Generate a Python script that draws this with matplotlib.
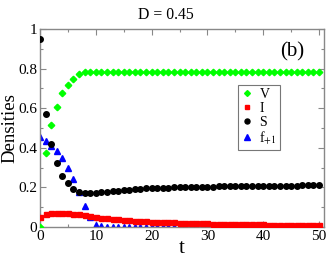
import matplotlib
matplotlib.use("Agg")
import matplotlib.pyplot as plt
from matplotlib.ticker import FixedLocator

t = list(range(51))
V = [0.0, 0.372, 0.514, 0.608, 0.675, 0.717, 0.747, 0.771, 0.781, 0.783,
     0.784, 0.784, 0.784, 0.784, 0.784, 0.784, 0.784, 0.784, 0.784, 0.784,
     0.784, 0.784, 0.784, 0.784, 0.784, 0.784, 0.784, 0.784, 0.784, 0.784,
     0.784, 0.784, 0.784, 0.784, 0.784, 0.784, 0.784, 0.784, 0.784, 0.784,
     0.784, 0.784, 0.784, 0.784, 0.784, 0.784, 0.784, 0.784, 0.784, 0.784, 0.784]
I = [0.052, 0.066, 0.071, 0.073, 0.072, 0.070, 0.067, 0.064, 0.060, 0.055,
     0.050, 0.047, 0.044, 0.041, 0.038, 0.036, 0.034, 0.032, 0.030, 0.029,
     0.027, 0.026, 0.025, 0.024, 0.023, 0.022, 0.021, 0.020, 0.019, 0.018,
     0.018, 0.017, 0.016, 0.016, 0.015, 0.015, 0.014, 0.014, 0.013, 0.013,
     0.013, 0.012, 0.012, 0.012, 0.011, 0.011, 0.011, 0.010, 0.010, 0.010, 0.010]
S = [0.95, 0.569, 0.42, 0.325, 0.26, 0.22, 0.192, 0.178, 0.173, 0.172,
     0.174, 0.176, 0.179, 0.182, 0.184, 0.187, 0.189, 0.191, 0.193, 0.195,
     0.196, 0.197, 0.198, 0.199, 0.200, 0.201, 0.201, 0.202, 0.203, 0.203,
     0.204, 0.204, 0.205, 0.205, 0.206, 0.206, 0.206, 0.207, 0.207, 0.207,
     0.208, 0.208, 0.208, 0.209, 0.209, 0.209, 0.209, 0.210, 0.210, 0.210, 0.210]
F = [0.453, 0.436, 0.41, 0.385, 0.347, 0.30, 0.24, 0.175, 0.106, 0.05,
     0.012, 0.003, 0.001, 0.0, 0.0, 0.0, 0.0, 0.0, 0.0, 0.0,
     0.0, 0.0, 0.0, 0.0, 0.0, 0.0, 0.0, 0.0, 0.0, 0.0,
     0.0, 0.0, 0.0, 0.0, 0.0, 0.0, 0.0, 0.0, 0.0, 0.0,
     0.0, 0.0, 0.0, 0.0, 0.0, 0.0, 0.0, 0.0, 0.0, 0.0, 0.0]

plt.rcParams['font.family'] = ['Liberation Serif', 'DejaVu Serif']
plt.rcParams['mathtext.fontset'] = 'stix'

fig = plt.figure(figsize=(3.32, 2.59), dpi=100)
ax = fig.add_axes([0.1205, 0.1236, 0.8555, 0.7644])

hf, = ax.plot(t, F, linestyle='none', marker='^', color='#0000ff', markersize=4.2, zorder=2)
hv, = ax.plot(t, V, linestyle='none', marker='D', color='#00ff00', markersize=3.3, zorder=3)
hi, = ax.plot(t, I, linestyle='none', marker='s', color='#ff0000', markersize=3.6, zorder=3)
hs, = ax.plot(t, S, linestyle='none', marker='o', color='black', markersize=4.0, zorder=4)

ax.set_xlim(0, 50.9)
ax.set_ylim(0, 1)
ax.xaxis.set_major_locator(FixedLocator([0, 10, 20, 30, 40, 50]))
ax.xaxis.set_minor_locator(FixedLocator([5, 15, 25, 35, 45]))
ax.yaxis.set_major_locator(FixedLocator([0, 0.2, 0.4, 0.6, 0.8, 1.0]))
ax.yaxis.set_minor_locator(FixedLocator([0.1, 0.3, 0.5, 0.7, 0.9]))
ax.set_yticklabels(['0', '0.2', '0.4', '0.6', '0.8', '1'])
ax.tick_params(which='both', direction='in', top=True, right=True, labelsize=11, pad=2, color='#888888')
ax.tick_params(which='major', length=4.5, width=0.8)
ax.tick_params(which='minor', length=2.5, width=0.8)
for sp in ax.spines.values():
    sp.set_color('#888888')
    sp.set_linewidth(1.0)

ax.set_xlabel('t', fontsize=15, labelpad=-3)
ax.set_ylabel('Densities', fontsize=13.5, labelpad=0)
fig.text(0.5, 0.944, 'D = 0.45', ha='center', va='center', fontsize=11.3)
ax.text(0.887, 0.884, '(b)', transform=ax.transAxes, ha='center', va='center', fontsize=15)

leg = ax.legend([hv, hi, hs, hf], ['V', 'I', 'S', r'f$_{+1}$'],
                loc='upper left', bbox_to_anchor=(0.697, 0.718), fontsize=10,
                frameon=True, fancybox=False, framealpha=1, edgecolor='#777777',
                handlelength=0.8, handletextpad=0.5, borderpad=0.25, labelspacing=0.05,
                borderaxespad=0, markerscale=0.9)
leg.get_frame().set_linewidth(0.8)

fig.savefig('out.png', dpi=100)
